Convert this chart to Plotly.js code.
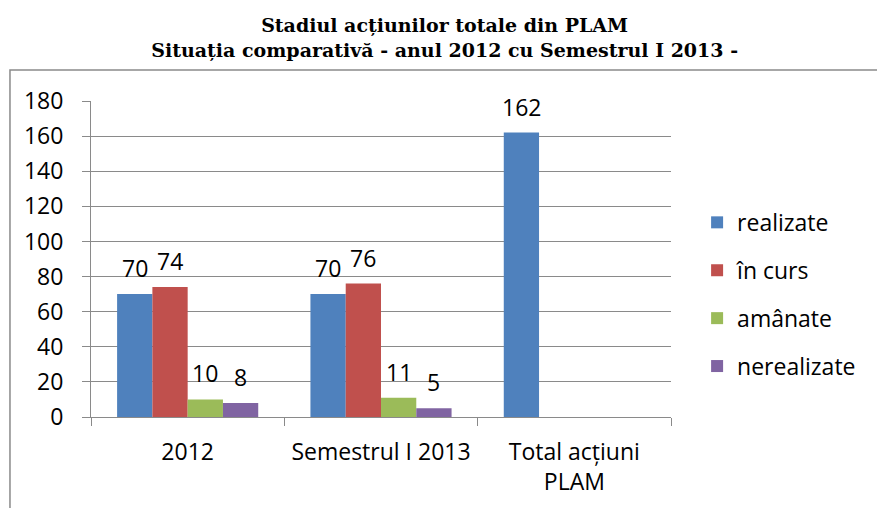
<!DOCTYPE html>
<html>
<head>
<meta charset="utf-8">
<script src="https://cdn.plot.ly/plotly-3.0.1.min.js"></script>
<style>html,body{margin:0;padding:0;background:#fff;}#chart{width:877px;height:508px;}</style>
</head>
<body>
<div id="chart"></div>
<script>
const categories = ["2012", "Semestrul I 2013", "Total acțiuni<br>PLAM"];
const seriesNames = ["realizate", "în curs", "amânate", "nerealizate"];
const realizate = [70, 70, 162];
const inCurs = [74, 76, null];
const amanate = [10, 11, null];
const nerealizate = [8, 5, null];
const yTicks = [0, 20, 40, 60, 80, 100, 120, 140, 160, 180];

const seriesValues = [realizate, inCurs, amanate, nerealizate];
const colors = ["#4F81BD", "#C0504D", "#9BBB59", "#8064A2"];
const FONT = "Open Sans, Liberation Sans, sans-serif";
const GRAY = "#8a8a8a";
const bargap = 0.27;

const traces = seriesValues.map((vals, i) => ({
  type: "bar",
  name: seriesNames[i],
  x: categories,
  y: vals,
  marker: {color: colors[i]},
  legendgroup: "g" + i,
  hoverinfo: "x+y+name"
}));

const annotations = [];
const barW = (1 - bargap) / seriesValues.length;
seriesValues.forEach((vals, i) => {
  vals.forEach((v, j) => {
    if (v === null || v === undefined) return;
    annotations.push({
      x: j + (i - (seriesValues.length - 1) / 2) * barW,
      y: v,
      xref: "x", yref: "y",
      text: String(v),
      showarrow: false,
      yanchor: "middle",
      yshift: 26,
      font: {family: FONT, size: 23, color: "#000"}
    });
  });
});

const layout = {
  width: 877, height: 508,
  paper_bgcolor: "#fff", plot_bgcolor: "#fff",
  margin: {l: 91, r: 206, t: 101, b: 91},
  title: {
    text: "Stadiul acțiunilor totale din PLAM<br>Situația comparativă - anul 2012 cu Semestrul I 2013 -",
    font: {family: "DejaVu Serif, serif", size: 19, color: "#000", weight: "bold"},
    x: 0.507, xref: "container", xanchor: "center",
    y: 0.937, yref: "container", yanchor: "middle"
  },
  bargap: bargap,
  bargroupgap: 0,
  barmode: "group",
  xaxis: {
    type: "category",
    showline: true, linecolor: GRAY, linewidth: 1,
    ticks: "outside", tickson: "boundaries", ticklen: 8, tickcolor: GRAY,
    showgrid: false, zeroline: false,
    ticklabelstandoff: 14,
    tickfont: {family: FONT, size: 23, color: "#000"},
    fixedrange: true
  },
  yaxis: {
    range: [0, 180],
    tickvals: yTicks,
    ticktext: yTicks.map(String),
    showline: true, linecolor: GRAY, linewidth: 1,
    ticks: "outside", ticklen: 8, tickcolor: GRAY,
    showgrid: true, gridcolor: GRAY, gridwidth: 1,
    zeroline: false,
    ticklabelstandoff: 14,
    tickfont: {family: FONT, size: 23, color: "#000"},
    fixedrange: true
  },
  legend: {
    x: 1.045, xanchor: "left",
    y: 0.388, yanchor: "middle",
    traceorder: "grouped",
    tracegroupgap: 15,
    font: {family: FONT, size: 23, color: "#000"},
    bgcolor: "rgba(0,0,0,0)"
  },
  annotations: annotations,
  shapes: [{
    type: "rect", xref: "paper", yref: "paper",
    x0: -0.1397, x1: 1.7, y0: -0.5, y1: 1.098,
    line: {color: GRAY, width: 1.5},
    fillcolor: "rgba(0,0,0,0)", layer: "below"
  }]
};

Plotly.newPlot("chart", traces, layout, {displayModeBar: false, staticPlot: true});
</script>
</body>
</html>
